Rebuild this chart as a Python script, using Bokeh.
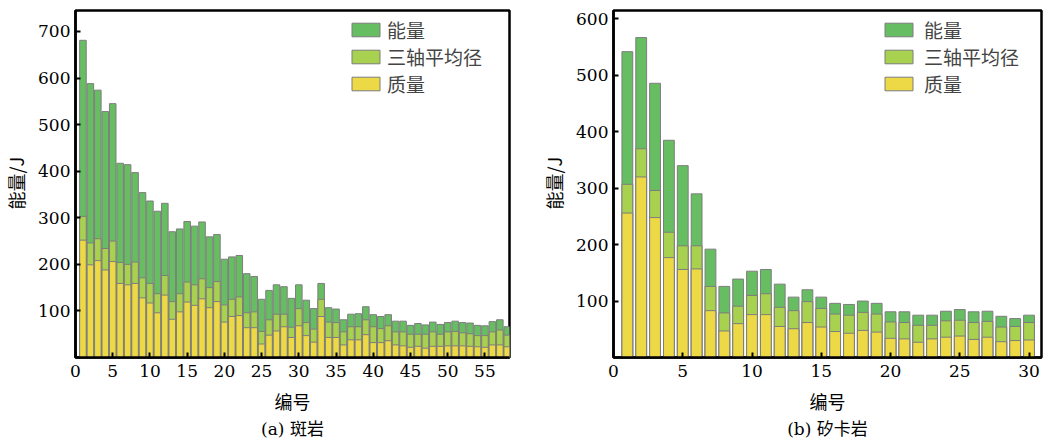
from bokeh.plotting import figure
from bokeh.layouts import row
from bokeh.models import FixedTicker, Legend, LegendItem, Title, Range1d
from bokeh.embed import file_html
from bokeh.resources import INLINE

# ---------------- data: (a) 斑岩 ----------------
ids_a = list(range(1, 59))
energy_a = [681, 588, 574, 528, 545, 417, 414, 397, 354, 336,
            314, 331, 270, 276, 292, 282, 291, 259, 264, 211,
            216, 219, 180, 174, 125, 144, 156, 152, 127, 156,
            123, 105, 159, 107, 104, 81, 93, 94, 109, 92,
            88, 92, 78, 78, 69, 73, 70, 76, 71, 75,
            78, 75, 74, 69, 68, 77, 81, 66]
triaxial_a = [303, 246, 255, 234, 250, 204, 200, 205, 171, 159,
              137, 176, 120, 137, 162, 156, 169, 150, 163, 113,
              125, 130, 96, 98, 56, 81, 93, 93, 65, 105,
              75, 61, 125, 76, 75, 55, 66, 66, 81, 66,
              62, 68, 55, 55, 50, 50, 50, 55, 50, 55,
              56, 53, 51, 47, 47, 55, 59, 48]
mass_a = [252, 199, 208, 188, 206, 159, 156, 159, 128, 117,
          96, 134, 82, 98, 119, 112, 126, 107, 120, 76,
          88, 90, 64, 64, 29, 48, 57, 66, 43, 68,
          47, 33, 88, 43, 43, 27, 38, 38, 49, 32,
          32, 36, 27, 25, 22, 24, 20, 24, 24, 25,
          25, 25, 24, 23, 22, 27, 27, 23]

# ---------------- data: (b) 矽卡岩 ----------------
ids_b = list(range(1, 31))
energy_b = [542, 567, 486, 385, 340, 290, 192, 126, 139, 153,
            156, 130, 107, 120, 107, 96, 94, 100, 96, 81,
            81, 75, 75, 82, 85, 81, 82, 73, 69, 75]
triaxial_b = [307, 370, 296, 222, 198, 198, 126, 79, 91, 110,
              113, 89, 83, 99, 87, 77, 75, 80, 77, 63,
              62, 57, 57, 65, 66, 62, 64, 54, 55, 62]
mass_b = [256, 320, 248, 177, 156, 157, 83, 47, 60, 76,
          76, 55, 51, 62, 54, 46, 43, 48, 45, 34,
          33, 27, 33, 36, 38, 32, 36, 28, 30, 31]

series_labels = ["能量", "三轴平均径", "质量"]
x_ticks_a = [0, 5, 10, 15, 20, 25, 30, 35, 40, 45, 50, 55]
y_ticks_a = [100, 200, 300, 400, 500, 600, 700]
x_ticks_b = [0, 5, 10, 15, 20, 25, 30]
y_ticks_b = [100, 200, 300, 400, 500, 600]
x_title = "编号"
y_title = "能量/J"
captions = ["(a) 斑岩", "(b) 矽卡岩"]

COLORS = ["#67be62", "#a8d14f", "#edd845"]
EDGE = "#7d7d7d"
NUM_FONT = "DejaVu Serif"
CJK_FONT = "Noto Sans CJK SC"


def make_panel(ids, energy, tri, mass, x_end, y_end, xticks, yticks, caption,
               bar_w, legend_xy, standoff, mbl, mbr, fw):
    p = figure(frame_width=fw, frame_height=347,
               x_range=Range1d(0, x_end), y_range=Range1d(0, y_end),
               output_backend="svg", toolbar_location=None,
               min_border_left=mbl, min_border_right=mbr,
               min_border_top=10, min_border_bottom=6)
    renderers = []
    for vals, col in zip([energy, tri, mass], COLORS):
        r = p.vbar(x=ids, top=vals, bottom=0, width=bar_w,
                   fill_color=col, line_color=EDGE, line_width=1)
        renderers.append(r)

    p.xgrid.visible = False
    p.ygrid.visible = False
    p.outline_line_color = "black"
    p.outline_line_width = 2.5
    p.outline_line_alpha = 1.0

    p.xaxis.ticker = FixedTicker(ticks=xticks)
    p.yaxis.ticker = FixedTicker(ticks=yticks)
    for ax in (p.xaxis[0], p.yaxis[0]):
        ax.axis_line_width = 2.5
        ax.axis_line_color = "black"
        ax.major_tick_in = 5
        ax.major_tick_out = 0
        ax.major_tick_line_width = 2
        ax.minor_tick_in = 0
        ax.minor_tick_out = 0
        ax.major_label_text_font = NUM_FONT
        ax.major_label_text_font_size = "17px"
        ax.major_label_text_color = "black"
        ax.axis_label_text_font = CJK_FONT
        ax.axis_label_text_font_size = "18px"
        ax.axis_label_text_font_style = "normal"
        ax.axis_label_text_color = "black"
    p.xaxis.major_label_standoff = 7
    p.yaxis.major_label_standoff = 5
    p.xaxis.axis_label = x_title
    p.yaxis.axis_label = y_title
    p.xaxis.axis_label_standoff = 8
    p.yaxis.axis_label_standoff = 6

    legend = Legend(
        items=[LegendItem(label=lab, renderers=[r]) for lab, r in zip(series_labels, renderers)],
        location=legend_xy, border_line_color=None, background_fill_alpha=0,
        padding=0, margin=0, glyph_width=35, glyph_height=17,
        label_text_font=CJK_FONT, label_text_font_size="19px",
        label_height=20, spacing=0, label_standoff=standoff)
    p.add_layout(legend)

    cap = Title(text=caption, align="center", text_font=NUM_FONT + ", " + CJK_FONT,
                text_font_size="17px", text_font_style="normal", text_color="black",
                standoff=1)
    p.add_layout(cap, "below")
    return p


pa = make_panel(ids_a, energy_a, triaxial_a, mass_a, 58.3, 745, x_ticks_a, y_ticks_a,
                captions[0], 0.88, (273, 260), 4, 66, 20, 434)
pb = make_panel(ids_b, energy_b, triaxial_b, mass_b, 30.9, 615, x_ticks_b, y_ticks_b,
                captions[1], 0.78, (268, 260), 8, 84, 2, 428)

layout = row(pa, pb)
open("out.html", "w").write(file_html(layout, INLINE))
